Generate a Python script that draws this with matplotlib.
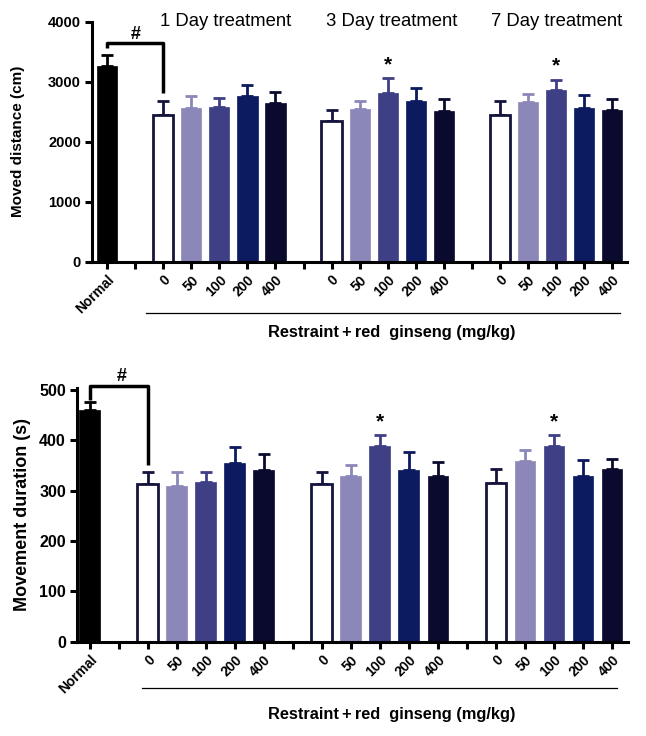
import numpy as np
import matplotlib
matplotlib.use("Agg")
import matplotlib.pyplot as plt

plt.rcParams['font.family'] = ['Liberation Sans', 'DejaVu Sans']

# ---- data ----
groups = ["Normal",
          "0", "50", "100", "200", "400",
          "0", "50", "100", "200", "400",
          "0", "50", "100", "200", "400"]
positions = [0, 2, 3, 4, 5, 6, 8, 9, 10, 11, 12, 14, 15, 16, 17, 18]

distance_mean = [3270, 2445, 2557, 2583, 2757, 2640,
                 2350, 2550, 2817, 2683, 2517,
                 2445, 2657, 2862, 2567, 2533]
distance_sem = [175, 233, 210, 140, 183, 193,
                178, 133, 240, 207, 200,
                233, 143, 166, 206, 174]

duration_mean = [460, 313, 310, 318, 355, 341,
                 313, 330, 389, 341, 330,
                 315, 358, 389, 330, 343]
duration_sem = [16, 25, 27, 19, 31, 32,
                24, 21, 22, 35, 27,
                28, 23, 22, 30, 20]

day_titles = ["1 Day treatment", "3 Day treatment", "7 Day treatment"]
star_idx = [8, 13]  # 3-day and 7-day 100 mg/kg

# styling
dose_colors = ['white', '#8b88b9', '#3f3f86', '#0c1a5f', '#0a0a2e']
edge_dark = '#14143c'
face = ['black'] + dose_colors * 3
err_col = ['black'] + [edge_dark, '#8b88b9', '#3f3f86', '#0c1a5f', '#0a0a2e'] * 3

W, H = 646, 736
fig = plt.figure(figsize=(W / 100, H / 100), dpi=100)


def px_axes(left, right, top, bottom):
    return fig.add_axes([left / W, 1 - bottom / H, (right - left) / W, (bottom - top) / H])


def draw_panel(ax, means, sems, ylim, yticks, ylabel, xlim, ylab_size, ylab_x, ytick_size):
    for p, m, s, fc, ec in zip(positions, means, sems, face, err_col):
        edge = edge_dark if fc == 'white' else fc
        ax.bar(p, m, width=0.72, color=fc, edgecolor=edge,
               linewidth=2 if fc == 'white' else 0.5, zorder=2)
        ax.errorbar(p, m, yerr=[[0], [s]], color=ec, capsize=4.5,
                    elinewidth=2, capthick=2, zorder=1)
    ax.set_xlim(*xlim)
    ax.set_ylim(*ylim)
    ax.set_yticks(yticks)
    ax.set_yticklabels([str(v) for v in yticks], fontweight='bold', fontsize=ytick_size)
    ax.set_xticks(range(19))
    labels = [''] * 19
    for p, g in zip(positions, groups):
        labels[p] = g
    ax.set_xticklabels(labels, rotation=45, ha='right', rotation_mode='anchor',
                       fontweight='bold', fontsize=10)
    for s in ['top', 'right']:
        ax.spines[s].set_visible(False)
    for s in ['left', 'bottom']:
        ax.spines[s].set_linewidth(2.2)
    ax.tick_params(axis='both', width=2.2, length=5, pad=3)
    ax.set_ylabel(ylabel, fontweight='bold', fontsize=ylab_size)
    ax.yaxis.set_label_coords(ylab_x, 0.5)


# ---- top panel: moved distance ----
ax1 = px_axes(92, 627, 21.7, 261.7)
draw_panel(ax1, distance_mean, distance_sem, (0, 4000), [0, 1000, 2000, 3000, 4000],
           'Moved distance (cm)', (-0.54, 18.53), 11, -0.125, 10.5)
ax1.plot([0, 0, 2, 2], [3560, 3640, 3640, 2810], color='black', lw=2.5,
         solid_capstyle='butt', clip_on=False)
ax1.text(1.0, 3650, '#', ha='center', va='bottom', fontsize=13, fontweight='bold')
for i in star_idx:
    ax1.text(positions[i], distance_mean[i] + distance_sem[i] + 70, '*',
             ha='center', va='bottom', fontsize=15, fontweight='bold')

# ---- bottom panel: movement duration ----
ax2 = px_axes(77, 628, 388, 641.7)
draw_panel(ax2, duration_mean, duration_sem, (0, 504), [0, 100, 200, 300, 400, 500],
           'Movement duration (s)', (-0.44, 18.55), 13, -0.083, 11.5)
ax2.plot([0, 0, 2, 2], [480, 507, 507, 352], color='black', lw=2.5,
         solid_capstyle='butt', clip_on=False)
ax2.text(1.1, 510, '#', ha='center', va='bottom', fontsize=13, fontweight='bold')
for i in star_idx:
    ax2.text(positions[i], duration_mean[i] + duration_sem[i] + 6, '*',
             ha='center', va='bottom', fontsize=15, fontweight='bold')

# day titles above the top panel
for cx, t in zip([226, 392, 557], day_titles):
    fig.text(cx / W, 1 - 21 / H, t, ha='center', va='center', fontsize=13.3)

# group underline + x label for both panels
xlab = 'Restraint\u2009+\u2009red  ginseng (mg/kg)'
for (y_line, x0, x1, y_lab) in [(312.7, 146, 620, 332), (688, 142, 617, 715)]:
    fig.add_artist(plt.Line2D([x0 / W, x1 / W], [1 - y_line / H, 1 - y_line / H],
                              color='black', lw=0.9))
    fig.text(392 / W, 1 - y_lab / H, xlab,
             ha='center', va='center', fontsize=11.8, fontweight='bold')

fig.savefig('out.png', dpi=100)
